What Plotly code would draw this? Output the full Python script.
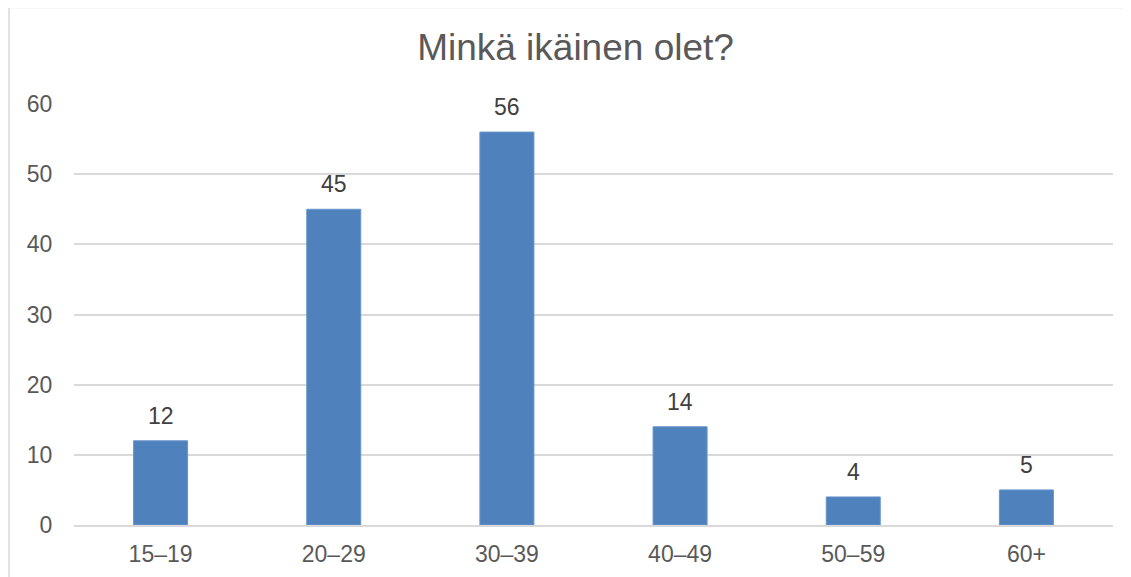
import plotly.graph_objects as go

categories = ["15–19", "20–29", "30–39", "40–49", "50–59", "60+"]
values = [12, 45, 56, 14, 4, 5]
title_text = "Minkä ikäinen olet?"
y_ticks = [0, 10, 20, 30, 40, 50, 60]

# page has an 8px body margin; compensate
OFF = 8
W, H = 1131 - OFF, 577 - OFF
ml, mr, mt, mb = 74 - OFF, 18, 103.5 - OFF, 52
pw = W - ml - mr
ph = H - mt - mb

fig = go.Figure(go.Bar(
    x=categories, y=values,
    marker=dict(color="#4F81BD", line=dict(color="#6A95CC", width=1)),
))

for c, v in zip(categories, values):
    fig.add_annotation(x=c, y=v, text=str(v), showarrow=False,
                       yanchor="middle", yshift=25,
                       font=dict(size=23, color="#404040"))

fig.update_layout(
    width=W, height=H,
    margin=dict(l=ml, r=mr, t=mt, b=mb, autoexpand=False),
    paper_bgcolor="white", plot_bgcolor="white",
    font=dict(family="Liberation Sans, Arial, sans-serif", color="#595959", size=23),
    title=dict(text=title_text, x=(575.5 - OFF) / W, xref="container", xanchor="center",
               y=1 - (47 - OFF) / H, yanchor="middle",
               font=dict(size=37, color="#595959")),
    bargap=0.688,
    showlegend=False,
    shapes=[dict(type="rect", xref="paper", yref="paper",
                 x0=(9 - OFF - ml) / pw, x1=(W + 20 - ml) / pw,
                 y0=-(mb + 20) / ph, y1=(H - mb - (7 - OFF)) / ph,
                 line=dict(color="#D9D9D9", width=1.5), fillcolor="rgba(0,0,0,0)",
                 layer="below")],
)
fig.update_yaxes(range=[0, 60], tickvals=y_ticks, showgrid=True, gridcolor="#D9D9D9",
                 gridwidth=1.5, zeroline=False, showline=False,
                 ticks="outside", ticklen=16, tickcolor="rgba(0,0,0,0)",
                 tickfont=dict(size=23, color="#595959"))
fig.update_xaxes(showline=True, linecolor="#D9D9D9", linewidth=1.5,
                 ticks="outside", ticklen=8, tickcolor="rgba(0,0,0,0)",
                 tickfont=dict(size=23, color="#595959"))

fig.write_html("out.html")
